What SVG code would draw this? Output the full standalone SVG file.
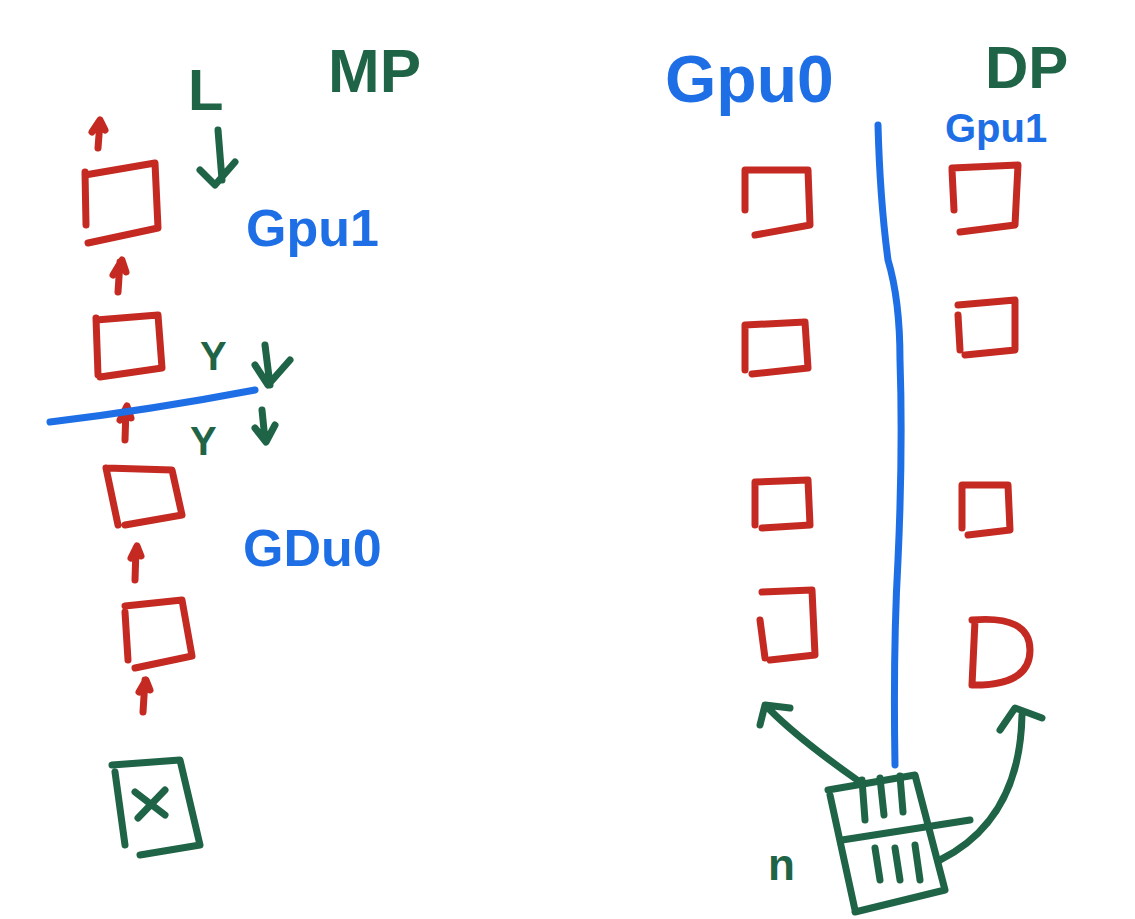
<svg xmlns="http://www.w3.org/2000/svg" width="1135" height="919" viewBox="0 0 1135 919">
<style>
.r{fill:none;stroke:#c42a22;stroke-width:7;stroke-linecap:round;stroke-linejoin:round}
.g{fill:none;stroke:#1f6446;stroke-width:7;stroke-linecap:round;stroke-linejoin:round}
.b{fill:none;stroke:#1e6fe6;stroke-width:7;stroke-linecap:round;stroke-linejoin:round}
.tb{fill:#1e6fe6;font-family:"Liberation Sans",sans-serif;font-weight:bold}
.tg{fill:#1f6446;font-family:"Liberation Sans",sans-serif;font-weight:bold}
</style>
<rect width="1135" height="919" fill="#fff"/>
<g id="labels">
<text class="tg" x="188" y="110" font-size="58">L</text>
<text class="tg" x="328" y="92" font-size="62">MP</text>
<text class="tb" x="246" y="246" font-size="52">Gpu1</text>
<text class="tb" x="243" y="566" font-size="52">GDu0</text>
<text class="tg" x="200" y="370" font-size="40">Y</text>
<text class="tg" x="190" y="455" font-size="40">Y</text>
<text class="tb" x="665" y="102" font-size="66">Gpu0</text>
<text class="tg" x="985" y="88" font-size="60">DP</text>
<text class="tb" x="945" y="142" font-size="40">Gpu1</text>
<text class="tg" x="768" y="880" font-size="44">n</text>
</g>
<g id="left-column">
<path class="r" d="M85 172 L86 225 M85 175 L155 163 L158 228 L88 243"/>
<path class="r" d="M96 318 L98 375 M96 320 L158 315 L162 368 L100 377"/>
<path class="r" d="M106 468 L118 525 M106 468 L172 470 L182 515 L125 525"/>
<path class="r" d="M125 612 L128 660 M125 606 L182 600 L192 656 L135 668"/>
<path class="r" d="M98 148 L100 122 M92 132 L100 120 L105 130"/>
<path class="r" d="M118 292 L120 262 M113 275 L122 260 L126 272"/>
<path class="r" d="M125 440 L126 408 M120 420 L127 406 L131 418"/>
<path class="r" d="M135 580 L136 548 M131 558 L137 546 L141 556"/>
<path class="r" d="M143 712 L145 680 M139 692 L146 680 L150 690"/>
<path class="g" d="M115 772 L125 845 M112 765 L180 760 L200 845 L140 855"/>
<path class="g" d="M135 792 L165 815 M165 790 L138 818"/>
<path class="g" d="M218 130 L222 180 M200 170 L215 185 L235 162"/>
<path class="g" d="M265 345 L270 385 M255 365 L268 385 L290 360"/>
<path class="g" d="M262 410 L265 440 M255 428 L266 442 L275 425"/>
<path class="b" d="M50 422 Q150 410 255 390"/>
</g>
<g id="right-column">
<path class="r" d="M745 170 L745 210 M745 170 L808 170 L810 225 L755 235"/>
<path class="r" d="M745 325 L745 370 M745 325 L805 322 L808 368 L752 374"/>
<path class="r" d="M755 482 L755 525 M755 482 L808 480 L810 525 L762 528"/>
<path class="r" d="M760 620 L765 658 M762 592 L812 590 L815 655 L770 660"/>
<path class="r" d="M952 170 L954 210 M952 168 L1018 165 L1015 225 L960 232"/>
<path class="r" d="M958 315 L960 350 M958 305 L1015 300 L1015 350 L965 355"/>
<path class="r" d="M962 485 L962 528 M962 485 L1008 485 L1010 530 L968 535"/>
<path class="r" d="M975 620 L972 685 M972 620 Q1030 615 1030 650 Q1030 685 975 685"/>
<path class="b" d="M878 125 Q880 200 888 260 Q900 300 900 360 Q903 450 898 560 Q893 650 895 765"/>
<path class="g" d="M830 795 L855 910 M828 790 L915 775 L945 890 L855 912"/>
<path class="g" d="M842 840 L970 820"/>
<path class="g" d="M862 780 L865 820 M880 778 L884 815 M900 776 L903 812 M875 848 L880 880 M895 848 L900 880 M915 845 L920 880"/>
<path class="g" d="M860 782 Q800 740 770 710 M760 725 L765 705 L790 708"/>
<path class="g" d="M940 860 Q1020 820 1022 715 M1000 730 L1015 708 L1042 718"/>
</g>
</svg>
